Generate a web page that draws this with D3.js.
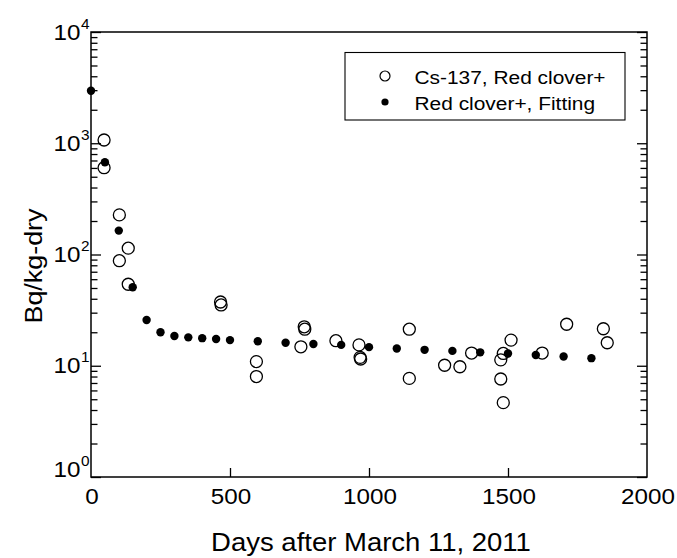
<!DOCTYPE html>
<html>
<head>
<meta charset="utf-8">
<script src="https://cdn.jsdelivr.net/npm/d3@7/dist/d3.min.js"></script>
<style>
  html, body { margin: 0; padding: 0; background: #fff; }
  svg { display: block; }
  text { font-family: "Liberation Sans", Arial, Helvetica, sans-serif; fill: #000; }
</style>
</head>
<body>
<svg id="chart" width="677" height="558"></svg>
<script>
// ---- data ----
const measuredDays = [47, 47, 102, 102, 134, 134, 466, 468, 595, 595, 755, 767, 769, 881, 964, 968, 970,
  1145, 1145, 1272, 1327, 1369, 1474, 1483, 1474, 1483, 1511, 1623, 1711, 1843, 1857];
const measuredValues = [1070, 603, 227, 88, 114, 54, 37.4, 35.2, 10.9, 8.0, 14.8, 22.4, 21.3, 16.8, 15.4, 11.9, 11.5,
  21.3, 7.7, 10.1, 9.8, 13.0, 11.3, 12.9, 7.6, 4.66, 17.0, 13.0, 23.6, 21.5, 16.1];
const fitDays = [0, 50, 100, 150, 200, 250, 300, 350, 400, 450, 500, 600, 700, 800, 900, 1000,
  1100, 1200, 1300, 1400, 1500, 1600, 1700, 1800];
const fitValues = [2966, 674, 164, 50.7, 25.8, 20.0, 18.5, 18.0, 17.7, 17.4, 17.0, 16.6, 16.1, 15.7, 15.4, 14.7,
  14.3, 13.9, 13.6, 13.2, 12.9, 12.5, 12.1, 11.7];
const xTickValues = [0, 500, 1000, 1500, 2000];
const yTickExponents = [0, 1, 2, 3, 4];
const seriesNames = ["Cs-137, Red clover+", "Red clover+, Fitting"];
const xTitle = "Days after March 11, 2011";
const yTitle = "Bq/kg-dry";

// ---- layout ----
const L = 91, R = 647, T = 32, B = 477;
const SX = 1.1; // horizontal glyph stretch to match reference
const svg = d3.select("#chart");
const x = d3.scaleLinear().domain([0, 2000]).range([L, R]);
const y = d3.scaleLog().domain([1, 10000]).range([B, T]);

function label(g, px, py, str, size, anchor, rot, sx) {
  const t = g.append("text")
    .attr("transform", `translate(${px},${py})` + (rot ? ` rotate(${rot})` : "") + ` scale(${sx || SX},1)`)
    .attr("text-anchor", anchor || "start")
    .style("font-size", size + "px")
    .text(str);
  return t;
}

// minor tick values for log axis
const minorTicks = [];
for (let e = 0; e < 4; e++) for (let m = 2; m <= 9; m++) minorTicks.push(m * Math.pow(10, e));
const majorTicks = yTickExponents.map(e => Math.pow(10, e));

const axG = svg.append("g");
function styleAxis(g) {
  g.select(".domain").remove();
  g.selectAll(".tick text").remove();
  g.selectAll(".tick line").attr("stroke", "#000").attr("stroke-width", 1.3);
}
// left axis (ticks inward)
axG.append("g").attr("transform", `translate(${L},0)`)
  .call(d3.axisLeft(y).tickValues(majorTicks).tickSizeInner(-10).tickSizeOuter(0)).call(styleAxis);
axG.append("g").attr("transform", `translate(${L},0)`)
  .call(d3.axisLeft(y).tickValues(minorTicks).tickSizeInner(-6.5).tickSizeOuter(0)).call(styleAxis);
// right axis (mirror, inward)
axG.append("g").attr("transform", `translate(${R},0)`)
  .call(d3.axisRight(y).tickValues(majorTicks).tickSizeInner(-10).tickSizeOuter(0)).call(styleAxis);
axG.append("g").attr("transform", `translate(${R},0)`)
  .call(d3.axisRight(y).tickValues(minorTicks).tickSizeInner(-6.5).tickSizeOuter(0)).call(styleAxis);
// bottom axis (ticks inward)
axG.append("g").attr("transform", `translate(0,${B})`)
  .call(d3.axisBottom(x).tickValues(xTickValues.slice(1, -1)).tickSizeInner(-9).tickSizeOuter(0)).call(styleAxis);

// frame
svg.append("rect").attr("x", L).attr("y", T).attr("width", R - L).attr("height", B - T)
  .attr("fill", "none").attr("stroke", "#000").attr("stroke-width", 1.5);

// x tick labels
const tl = svg.append("g");
xTickValues.forEach(v => label(tl, x(v) + 1, B + 27, String(v), 22, "middle"));
// y tick labels: 10^n
yTickExponents.forEach(e => {
  const py = y(Math.pow(10, e)) + (e === 0 ? 0 : 7.5);
  label(tl, 80.5, py, "10", 22, "end");
  label(tl, 81, py - 11, String(e), 14, "start");
});

// axis titles
label(svg, x(1000) + 2, 551, xTitle, 25, "middle");
label(svg, 42, 266, yTitle, 24, "middle", -90, 1.12);

// data points
const meas = measuredDays.map((d, i) => ({ d, v: measuredValues[i] }));
const fit = fitDays.map((d, i) => ({ d, v: fitValues[i] }));
svg.append("g").selectAll("circle").data(meas).join("circle")
  .attr("cx", p => x(p.d)).attr("cy", p => y(p.v)).attr("r", 6)
  .attr("fill", "none").attr("stroke", "#000").attr("stroke-width", 1.3);
svg.append("g").selectAll("circle").data(fit).join("circle")
  .attr("cx", p => x(p.d)).attr("cy", p => y(p.v)).attr("r", 4.2)
  .attr("fill", "#000");

// legend
const lg = svg.append("g");
lg.append("rect").attr("x", 345).attr("y", 52.5).attr("width", 280).attr("height", 67.5)
  .attr("fill", "#fff").attr("stroke", "#000").attr("stroke-width", 1.1);
lg.append("circle").attr("cx", 385).attr("cy", 76).attr("r", 5)
  .attr("fill", "none").attr("stroke", "#000").attr("stroke-width", 1.2);
lg.append("circle").attr("cx", 385).attr("cy", 102).attr("r", 3.6).attr("fill", "#000");
label(lg, 414.5, 84, seriesNames[0], 19, "start");
label(lg, 414.5, 110, seriesNames[1], 19, "start");
</script>
</body>
</html>
